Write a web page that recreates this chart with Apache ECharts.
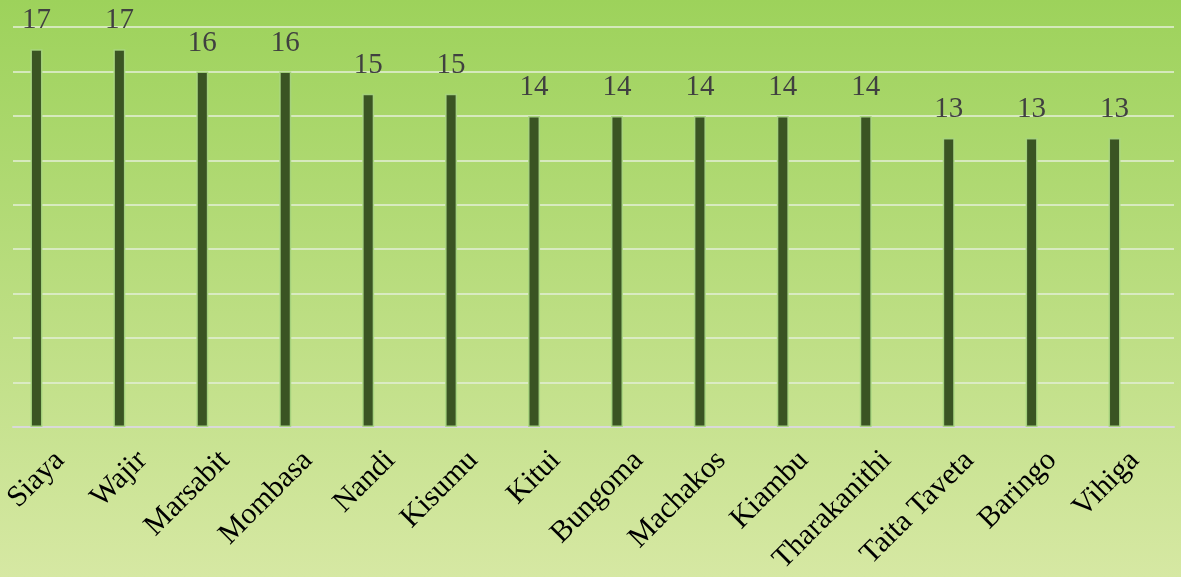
<!DOCTYPE html>
<html>
<head>
<meta charset="utf-8">
<script src="https://cdn.jsdelivr.net/npm/echarts@6/dist/echarts.min.js"></script>
<style>
html,body{margin:0;padding:0;}
#c{width:1181px;height:577px;}
</style>
</head>
<body>
<div id="c"></div>
<script>
const categories = ['Siaya','Wajir','Marsabit','Mombasa','Nandi','Kisumu','Kitui','Bungoma','Machakos','Kiambu','Tharakanithi','Taita Taveta','Baringo','Vihiga'];
const values = [17,17,16,16,15,15,14,14,14,14,14,13,13,13];
const yMin = 0, yMax = 18, yStep = 2;

const chart = echarts.init(document.getElementById('c'));
const hiddenY = (gi) => ({gridIndex: gi, type: 'value', min: yMin, max: yMax, interval: yStep,
  axisLabel: {show: false}, axisLine: {show: false}, axisTick: {show: false}, splitLine: {show: false}});
chart.setOption({
  backgroundColor: {type: 'linear', x: 0, y: 0, x2: 0, y2: 1, colorStops: [
    {offset: 0, color: '#9dd25b'}, {offset: 1, color: '#d6e8a3'}]},
  grid: [
    {left: 13, right: 7, top: 27, bottom: 150},
    {left: 0, right: 20, top: 27, bottom: 150},
    {left: 15, right: 5, top: 27, bottom: 150}
  ],
  xAxis: [
    {gridIndex: 0, type: 'category', data: categories, axisLabel: {show: false}, axisTick: {show: false},
      axisLine: {show: true, lineStyle: {color: '#d9d9d9', width: 2}}},
    {gridIndex: 1, type: 'category', data: categories, axisLabel: {show: false}, axisTick: {show: false}, axisLine: {show: false}},
    {gridIndex: 2, type: 'category', data: categories, axisTick: {show: false}, axisLine: {show: false},
      axisLabel: {rotate: 45, margin: 42, interval: 0, color: '#000', fontFamily: 'Liberation Serif', fontSize: 30}}
  ],
  yAxis: [
    {gridIndex: 0, type: 'value', min: yMin, max: yMax, interval: yStep,
      axisLabel: {show: false}, axisLine: {show: false}, axisTick: {show: false},
      splitLine: {show: true, lineStyle: {color: 'rgba(225,238,210,0.8)', width: 2}}},
    hiddenY(1), hiddenY(2)
  ],
  series: [{
    type: 'bar', xAxisIndex: 1, yAxisIndex: 1, data: values, barWidth: 12, barGap: '-16.7%',
    itemStyle: {color: '#3a5423', borderColor: 'rgba(170,215,130,0.9)', borderWidth: 1.5},
    label: {show: true, position: 'top', distance: 14, color: '#404040', fontFamily: 'Liberation Serif', fontSize: 29},
    animation: false
  }, {
    type: 'bar', xAxisIndex: 1, yAxisIndex: 1, data: values.map(() => '-'), barWidth: 12, barGap: '-16.7%',
    silent: true, animation: false
  }],
  animation: false
});
</script>
</body>
</html>
